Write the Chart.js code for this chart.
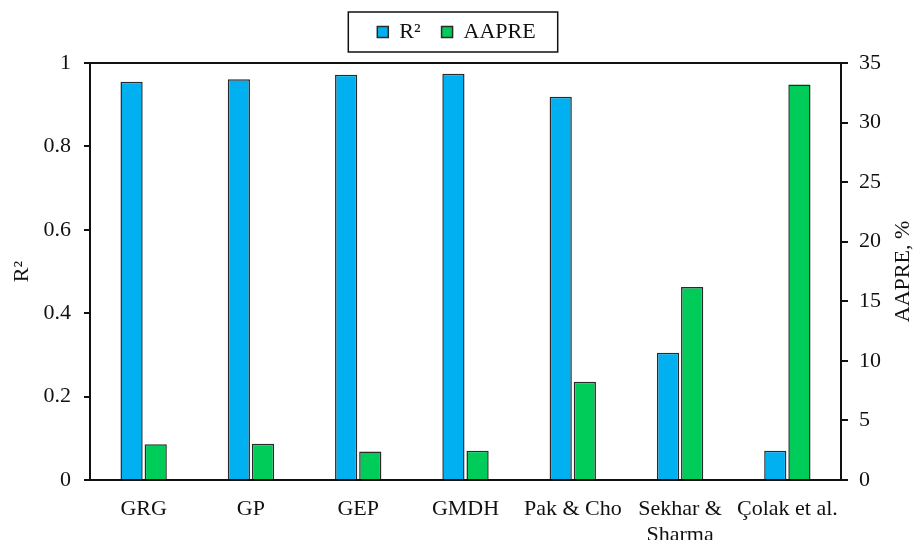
<!DOCTYPE html>
<html>
<head>
<meta charset="utf-8">
<script src="https://cdn.jsdelivr.net/npm/chart.js@4"></script>
<style>
  html, body { margin: 0; padding: 0; background: #fff; }
  #wrap { width: 913px; height: 540px; }
</style>
</head>
<body>
<div id="wrap"><canvas id="chart" width="913" height="540"></canvas></div>
<script>
const categories = ['GRG', 'GP', 'GEP', 'GMDH', 'Pak & Cho', ['Sekhar &', 'Sharma'], 'Çolak et al.'];
const r2Values = [0.955, 0.961, 0.972, 0.974, 0.919, 0.305, 0.070];
const aapreValues = [3.0, 3.05, 2.4, 2.45, 8.25, 16.2, 33.2];
const leftTicks = [0, 0.2, 0.4, 0.6, 0.8, 1];
const rightTicks = [0, 5, 10, 15, 20, 25, 30, 35];

const FONT = "'Liberation Serif', 'Times New Roman', serif";
const INK = '#111';
const SIZE = 22;

const framePlugin = {
    id: 'frame',
    beforeInit(chart) {
        const lg = chart.legend;
        if (lg && !lg._patched) {
            const fit = lg.fit;
            lg.fit = function () {
                fit.call(this);
                this.height = 63;
            };
            lg._patched = true;
        }
    },
    afterDraw(chart) {
        const ctx = chart.ctx;
        const area = chart.chartArea;
        ctx.save();
        // top border of the plot
        ctx.strokeStyle = INK;
        ctx.lineWidth = 2;
        ctx.beginPath();
        ctx.moveTo(area.left - 1, area.top);
        ctx.lineTo(area.right + 1, area.top);
        ctx.stroke();

        // box around legend
        const boxes = chart.legend.legendHitBoxes;
        if (boxes && boxes.length) {
            const first = boxes[0];
            const last = boxes[boxes.length - 1];
            const x0 = first.left - 29;
            const x1 = last.left + last.width + 22;
            ctx.lineWidth = 1.5;
            ctx.strokeRect(x0, 12, x1 - x0, 40);
        }

        // right axis title, reading bottom to top
        ctx.fillStyle = INK;
        ctx.font = SIZE + 'px ' + FONT;
        ctx.textAlign = 'center';
        ctx.textBaseline = 'middle';
        ctx.translate(903, (area.top + area.bottom) / 2);
        ctx.rotate(-Math.PI / 2);
        ctx.fillText('AAPRE, %', 0, 0);
        ctx.restore();
    }
};

const fmt = v => String(Number(Number(v).toFixed(1)));

new Chart(document.getElementById('chart'), {
    type: 'bar',
    data: {
        labels: categories,
        datasets: [{
            label: 'R²',
            data: r2Values,
            yAxisID: 'y',
            backgroundColor: '#00B0F0',
            borderColor: '#2a2a2a',
            borderWidth: 1.5
        }, {
            label: 'AAPRE',
            data: aapreValues,
            yAxisID: 'y2',
            backgroundColor: '#00CC5A',
            borderColor: '#2a2a2a',
            borderWidth: 1.5
        }]
    },
    options: {
        responsive: false,
        animation: false,
        categoryPercentage: 0.45,
        barPercentage: 0.92,
        layout: { padding: 0 },
        plugins: {
            legend: {
                position: 'top',
                labels: {
                    color: INK,
                    font: { family: FONT, size: SIZE },
                    boxWidth: 11,
                    boxHeight: 11,
                    padding: 21
                }
            },
            tooltip: { enabled: false }
        },
        scales: {
            x: {
                grid: { display: false },
                border: { display: true, color: INK, width: 2 },
                ticks: {
                    color: INK,
                    font: { family: FONT, size: SIZE, lineHeight: 1.15 },
                    padding: 9,
                    maxRotation: 0,
                    autoSkip: false
                },
                afterFit(scale) { scale.height = 60; }
            },
            y: {
                position: 'left',
                min: 0,
                max: 1,
                afterBuildTicks(scale) { scale.ticks = leftTicks.map(v => ({ value: v })); },
                grid: { drawOnChartArea: false, color: INK, lineWidth: 2, tickLength: 6 },
                border: { display: true, color: INK, width: 2 },
                ticks: {
                    color: INK,
                    font: { family: FONT, size: SIZE },
                    padding: 13,
                    callback: fmt
                },
                title: {
                    display: true,
                    text: 'R²',
                    color: INK,
                    font: { family: FONT, size: SIZE },
                    padding: { top: 9, bottom: 0 }
                },
                afterFit(scale) { scale.width = 90; }
            },
            y2: {
                position: 'right',
                min: 0,
                max: 35,
                afterBuildTicks(scale) { scale.ticks = rightTicks.map(v => ({ value: v })); },
                grid: { drawOnChartArea: false, color: INK, lineWidth: 2, tickLength: 7 },
                border: { display: true, color: INK, width: 2 },
                ticks: {
                    color: INK,
                    font: { family: FONT, size: SIZE },
                    padding: 11,
                    callback: fmt
                },
                afterFit(scale) { scale.width = 72; }
            }
        }
    },
    plugins: [framePlugin]
});
</script>
</body>
</html>
